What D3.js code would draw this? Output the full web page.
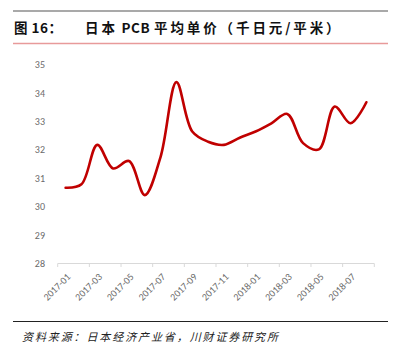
<!DOCTYPE html>
<html><head><meta charset="utf-8">
<script src="https://cdn.jsdelivr.net/npm/d3@7"></script>
<style>body{margin:0;background:#fff}svg{display:block}</style>
</head><body>
<svg id="c" width="402" height="357"></svg>
<script>
const categories = ["2017-01","2017-02","2017-03","2017-04","2017-05","2017-06","2017-07","2017-08","2017-09","2017-10","2017-11","2017-12","2018-01","2018-02","2018-03","2018-04","2018-05","2018-06","2018-07","2018-08"];
const values = [30.67,30.79,32.18,31.35,31.61,30.41,31.76,34.39,32.65,32.29,32.18,32.43,32.65,32.94,33.27,32.24,32.02,33.53,32.94,33.68];
const yTicks = [28,29,30,31,32,33,34,35];
const xLabels = ["2017-01","2017-03","2017-05","2017-07","2017-09","2017-11","2018-01","2018-03","2018-05","2018-07"];
const titleLabel = "图 16：";
const titleParts = ["日本", " PCB ", "平均单价（千日元/平米）"];
const sourceText = "资料来源：日本经济产业省，川财证券研究所";

const svg = d3.select("#c");
const font = "'Noto Sans CJK SC','Noto Sans',sans-serif";

// header lines
svg.append("line").attr("x1",13).attr("x2",388).attr("y1",11).attr("y2",11).attr("stroke","#8c8c8c").attr("stroke-width",1.5);
svg.append("text").attr("x",14).attr("y",32.5).attr("font-family",font).attr("font-weight","bold").attr("font-size",13.5).attr("fill","#111")
  .style("letter-spacing","0.5px").text(titleLabel);
const t = svg.append("text").attr("x",85).attr("y",32.5).attr("font-family",font).attr("font-weight","bold").attr("font-size",13.5).attr("fill","#111");
t.selectAll("tspan").data(titleParts).join("tspan")
  .style("letter-spacing",(d,i)=>i===1?"0.6px":"2.9px").text(d=>d);
svg.append("line").attr("x1",13).attr("x2",388).attr("y1",43.5).attr("y2",43.5).attr("stroke","#e89a9a").attr("stroke-width",1.3);

const x = d3.scaleBand().domain(categories).range([57.7,374.3]);
const y = d3.scaleLinear().domain([28,35]).range([263.5,64.8]);

// y labels
svg.append("g").selectAll("text").data(yTicks).join("text")
  .attr("x",45).attr("y",d=>y(d)).attr("dy","0.35em").attr("text-anchor","end")
  .attr("font-family","Calibri,Carlito,'Liberation Sans',sans-serif").attr("font-size",10).attr("fill","#6b6b6b").text(d=>d);

// x axis
const ax = svg.append("g");
ax.append("line").attr("x1",57.7).attr("x2",374.3).attr("y1",263.5).attr("y2",263.5).attr("stroke","#d9d9d9").attr("stroke-width",1);
const tickPos = categories.filter((c,i)=>i%2===0).map(c=>x(c)).concat([x.range()[1]]);
ax.selectAll("line.t").data(tickPos).join("line").attr("class","t")
  .attr("x1",d=>d).attr("x2",d=>d).attr("y1",263.5).attr("y2",267).attr("stroke","#d9d9d9");
ax.selectAll("text").data(xLabels).join("text")
  .attr("transform",d=>`translate(${x(d)+x.bandwidth()/2+3},${275}) rotate(-45)`)
  .attr("text-anchor","end").attr("dy","0.35em")
  .attr("font-family","Calibri,Carlito,'Liberation Sans',sans-serif").attr("font-size",10).attr("fill","#6b6b6b").text(d=>d);

// line
const line = d3.line().x((d,i)=>x(categories[i])+x.bandwidth()/2).y(d=>y(d)).curve(d3.curveCatmullRom.alpha(0.5));
svg.append("path").datum(values).attr("d",line).attr("fill","none").attr("stroke","#c00000").attr("stroke-width",2.6).attr("stroke-linecap","round");

// footer
svg.append("line").attr("x1",13).attr("x2",388).attr("y1",321.5).attr("y2",321.5).attr("stroke","#222").attr("stroke-width",1.2);
svg.append("text").attr("x",22).attr("y",341).attr("font-family",font).attr("font-size",11).attr("font-style","italic").attr("fill","#222")
  .attr("textLength",256).attr("lengthAdjust","spacing").text(sourceText);
</script>
</body></html>
